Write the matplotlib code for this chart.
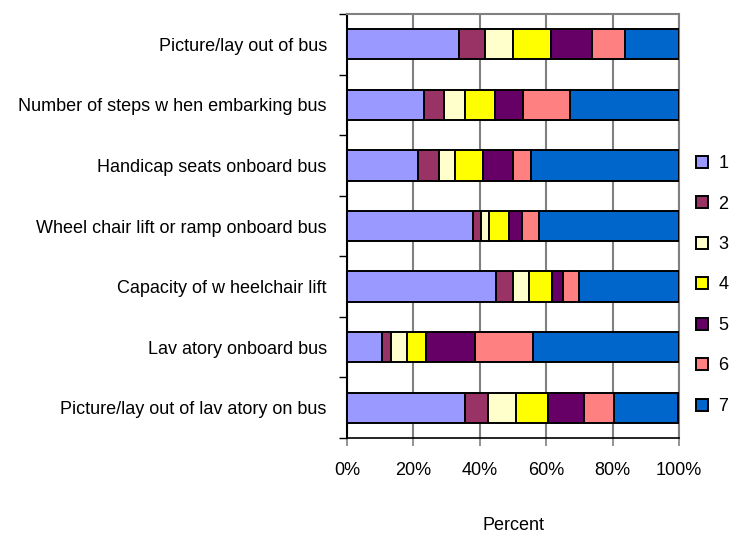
import matplotlib
matplotlib.use("Agg")
import matplotlib.pyplot as plt
import numpy as np
from matplotlib.ticker import FixedLocator, FuncFormatter

categories = [
    "Picture/lay out of bus",
    "Number of steps w hen embarking bus",
    "Handicap seats onboard bus",
    "Wheel chair lift or ramp onboard bus",
    "Capacity of w heelchair lift",
    "Lav atory onboard bus",
    "Picture/lay out of lav atory on bus",
]
series_labels = ["1", "2", "3", "4", "5", "6", "7"]
s1 = [33.6, 23.2, 21.5, 37.9, 45.0, 10.6, 35.4]
s2 = [7.9, 6.1, 6.1, 2.4, 4.9, 2.6, 7.2]
s3 = [8.4, 6.1, 4.9, 2.5, 4.9, 4.8, 8.3]
s4 = [11.4, 9.1, 8.4, 5.9, 7.0, 5.9, 9.7]
s5 = [12.6, 8.4, 9.0, 4.1, 3.3, 14.7, 10.8]
s6 = [9.8, 14.4, 5.5, 4.9, 4.8, 17.3, 9.1]
s7 = [16.3, 32.7, 44.6, 42.3, 30.1, 44.1, 19.3]
series = [s1, s2, s3, s4, s5, s6, s7]
colors = ["#9999FF", "#993366", "#FFFFCC", "#FFFF00", "#660066", "#FF8080", "#0066CC"]
xticks = [0, 20, 40, 60, 80, 100]

plt.rcParams['font.family'] = ['Liberation Sans', 'DejaVu Sans']

fig = plt.figure(figsize=(7.31, 5.34), dpi=100)
ax = fig.add_axes([347/731, 1 - 438/534, (679-347)/731, (438-14)/534])

y = np.arange(len(categories))
left = np.zeros(len(categories))
handles = []
for vals, col, lab in zip(series, colors, series_labels):
    vals = np.array(vals)
    h = ax.barh(y, vals, left=left, height=0.5, color=col, edgecolor="black",
                linewidth=1.4, label=lab, zorder=3)
    handles.append(h)
    left += vals

ax.set_xlim(0, 100)
ax.set_ylim(len(categories) - 0.5, -0.5)
ax.set_xticks(xticks)
ax.xaxis.set_major_formatter(FuncFormatter(lambda v, p: f"{int(v)}%"))
ax.tick_params(axis="x", direction="out", length=6, width=1.2, color="#808080",
               labelsize=13, pad=11)
ax.set_yticks(y)
ax.set_yticklabels(categories)
ax.tick_params(axis="y", which="major", length=0, labelsize=13, pad=14.5)
ax.yaxis.set_minor_locator(FixedLocator(np.arange(-0.5, len(categories), 1.0)))
ax.tick_params(axis="y", which="minor", length=6, width=1, color="black", direction="out")

ax.xaxis.grid(True, color="#808080", linewidth=1.5, zorder=0)
for s in ["top", "right"]:
    ax.spines[s].set_color("#808080")
    ax.spines[s].set_linewidth(1.5)
ax.spines["left"].set_color("black")
ax.spines["left"].set_linewidth(1.5)
ax.spines["bottom"].set_color("black")
ax.spines["bottom"].set_linewidth(1.2)

ax.set_xlabel("Percent", fontsize=13, labelpad=28)

leg = fig.legend(handles, series_labels, loc="center left",
                 bbox_to_anchor=(696/731, 1 - 285/534), frameon=False,
                 fontsize=13, handlelength=0.65, handleheight=0.65,
                 labelspacing=1.3, handletextpad=0.6, borderpad=0,
                 borderaxespad=0)

fig.savefig("out.png", dpi=100)
